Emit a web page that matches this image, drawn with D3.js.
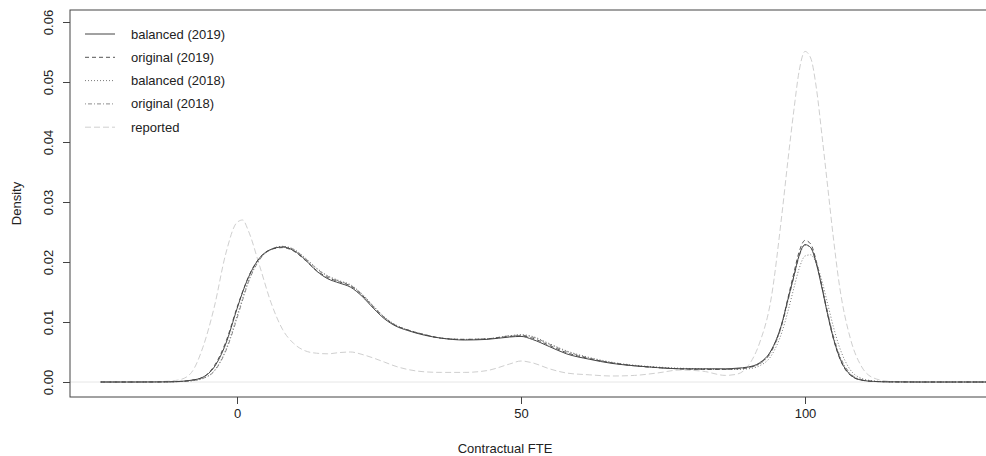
<!DOCTYPE html>
<html><head><meta charset="utf-8">
<script src="https://cdn.jsdelivr.net/npm/d3@7/dist/d3.min.js"></script>
<style>
body{margin:0;background:#fff;}
text{font-family:"Liberation Sans",Arial,Helvetica,sans-serif;fill:#222;}
</style></head>
<body><svg id="c" width="986" height="456"></svg>
<script>
const xs = [-24,-18,-14,-12,-10,-8,-6,-4,-2,0,1,2,4,6,8,10,12,14,16,18,20,22,24,26,28,30,33,36,40,44,48,50,52,55,58,62,66,70,74,78,82,86,88,90,92,94,96,97,98,99,100,101,102,103,104,105,106,108,110,112,115,120,128,136];

const balanced2019 = [0,0,0.00001,0.00003,0.0001,0.0003,0.0008,0.0025,0.0063,0.0122,0.0150,0.0174,0.0207,0.0221,0.0225,0.0219,0.0204,0.0185,0.0172,0.0165,0.0158,0.0143,0.0123,0.0105,0.0093,0.0086,0.0078,0.0073,0.0070,0.0071,0.0075,0.0076,0.0071,0.0059,0.0047,0.0038,0.0031,0.0027,0.0024,0.0022,0.0022,0.0022,0.0023,0.0025,0.0032,0.0052,0.0100,0.0138,0.0175,0.0212,0.0229,0.0224,0.0197,0.0156,0.0112,0.0073,0.0043,0.0012,0.0003,0.0001,0.00002,0,0,0];

const original2019 = [0,0,0.00001,0.00003,0.0001,0.0003,0.0008,0.0027,0.0066,0.0124,0.0151,0.0175,0.0207,0.0221,0.0224,0.0218,0.0203,0.0186,0.0174,0.0167,0.0160,0.0145,0.0125,0.0107,0.0094,0.0087,0.0079,0.0073,0.0071,0.0072,0.0076,0.0077,0.0073,0.0061,0.0049,0.0039,0.0032,0.0027,0.0024,0.0022,0.0021,0.0021,0.0022,0.0024,0.0031,0.0051,0.0100,0.0140,0.0180,0.0218,0.0236,0.0230,0.0201,0.0158,0.0112,0.0072,0.0042,0.0011,0.0003,0.0001,0.00002,0,0,0];

const balanced2018 = [0,0,0.00001,0.00002,0.00008,0.0002,0.0006,0.0019,0.0053,0.0110,0.0140,0.0168,0.0205,0.0221,0.0226,0.0221,0.0207,0.0190,0.0177,0.0169,0.0162,0.0147,0.0127,0.0108,0.0095,0.0087,0.0079,0.0073,0.0071,0.0072,0.0077,0.0079,0.0076,0.0064,0.0052,0.0041,0.0033,0.0028,0.0025,0.0023,0.0022,0.0021,0.0021,0.0022,0.0027,0.0043,0.0085,0.0118,0.0155,0.0190,0.0210,0.0212,0.0197,0.0168,0.0130,0.0092,0.0060,0.0020,0.0006,0.0002,0.00004,0,0,0];

const original2018 = [0,0,0.00001,0.00002,0.00007,0.0002,0.0006,0.0018,0.0051,0.0106,0.0137,0.0166,0.0204,0.0221,0.0226,0.0221,0.0206,0.0189,0.0176,0.0168,0.0161,0.0146,0.0126,0.0107,0.0094,0.0087,0.0079,0.0073,0.0071,0.0072,0.0077,0.0078,0.0075,0.0063,0.0051,0.0040,0.0032,0.0027,0.0024,0.0022,0.0021,0.0021,0.0022,0.0024,0.0030,0.0049,0.0097,0.0135,0.0173,0.0210,0.0228,0.0224,0.0199,0.0160,0.0116,0.0077,0.0047,0.0014,0.0004,0.0001,0.00002,0,0,0];

const reported = [0,0.00001,0.00005,0.00015,0.0004,0.0016,0.0058,0.0125,0.0213,0.0266,0.0270,0.0252,0.0193,0.0132,0.0088,0.0064,0.0052,0.0048,0.0047,0.0049,0.0050,0.0046,0.0040,0.0033,0.0026,0.0021,0.0017,0.0016,0.0016,0.0019,0.0030,0.0035,0.0032,0.0022,0.0015,0.0012,0.0010,0.0011,0.0015,0.0020,0.0018,0.0011,0.0013,0.0027,0.0065,0.0137,0.0285,0.0370,0.0450,0.0520,0.0551,0.0540,0.0490,0.0410,0.0325,0.0240,0.0165,0.0072,0.0025,0.0007,0.0001,0,0,0];

const xTicks = [0,50,100];
const yTicks = [0,0.01,0.02,0.03,0.04,0.05,0.06];
const seriesNames = ["balanced (2019)","original (2019)","balanced (2018)","original (2018)","reported"];
const seriesData = [balanced2019, original2019, balanced2018, original2018, reported];
const seriesStyle = [
  {color:"#444444", dash:null},
  {color:"#555555", dash:"4,3"},
  {color:"#7a7a7a", dash:"1,2"},
  {color:"#8c8c8c", dash:"1,2,4,2"},
  {color:"#cfcfcf", dash:"6,3"}
];

const svg = d3.select("#c");
const L = 70, T = 10, B = 397, R = 1000;
const x = d3.scaleLinear().domain([0,100]).range([237,805]);
const y = d3.scaleLinear().domain([0,0.06]).range([382,22]);

svg.append("defs").append("clipPath").attr("id","clip")
  .append("rect").attr("x",L).attr("y",T).attr("width",R-L).attr("height",B-T);

const g = svg.append("g").attr("clip-path","url(#clip)");
// zero line
g.append("line").attr("x1",L).attr("x2",R).attr("y1",y(0)).attr("y2",y(0))
  .attr("stroke","#e6e6e6").attr("stroke-width",1);

const line = d3.line().x((d,i)=>x(xs[i])).y(d=>y(d)).curve(d3.curveMonotoneX);
for (let k = seriesData.length-1; k >= 0; k--) {
  g.append("path").datum(seriesData[k]).attr("d",line)
    .attr("fill","none").attr("stroke",seriesStyle[k].color).attr("stroke-width",1)
    .attr("stroke-dasharray",seriesStyle[k].dash);
}

// box
svg.append("rect").attr("x",L).attr("y",T).attr("width",R-L).attr("height",B-T)
  .attr("fill","none").attr("stroke","#444").attr("stroke-width",1);

// y axis
const ya = svg.append("g").attr("transform",`translate(${L},0)`)
  .call(d3.axisLeft(y).tickValues(yTicks).tickFormat(d3.format(".2f")).tickSize(7));
ya.select(".domain").remove();
ya.selectAll(".tick line").attr("stroke","#444");
ya.selectAll("text").attr("x",null).attr("dy",null)
  .attr("transform","translate(-17.5,0) rotate(-90)")
  .attr("text-anchor","middle").style("font-size","13px").attr("fill","#222")
  .style("font-family","'Liberation Sans',Arial,sans-serif");

// x axis
const xa = svg.append("g").attr("transform",`translate(0,${B})`)
  .call(d3.axisBottom(x).tickValues(xTicks).tickFormat(d3.format("d")).tickSize(7));
xa.select(".domain").remove();
xa.selectAll(".tick line").attr("stroke","#444");
xa.selectAll("text").attr("y",21).attr("dy",null)
  .style("font-size","13px").attr("fill","#222")
  .style("font-family","'Liberation Sans',Arial,sans-serif");

svg.append("text").attr("x",505).attr("y",452.5).attr("text-anchor","middle")
  .style("font-size","13px").text("Contractual FTE");
svg.append("text").attr("transform","translate(21,203.5) rotate(-90)").attr("text-anchor","middle")
  .style("font-size","13px").text("Density");

// legend
const lg = svg.append("g");
seriesNames.forEach((name,i)=>{
  const cy = 34 + i*23.3;
  lg.append("line").attr("x1",85).attr("x2",115).attr("y1",cy).attr("y2",cy)
    .attr("stroke",seriesStyle[i].color).attr("stroke-width",1)
    .attr("stroke-dasharray",seriesStyle[i].dash);
  lg.append("text").attr("x",131).attr("y",cy+4.5).style("font-size","13px").text(name);
});
</script></body></html>
